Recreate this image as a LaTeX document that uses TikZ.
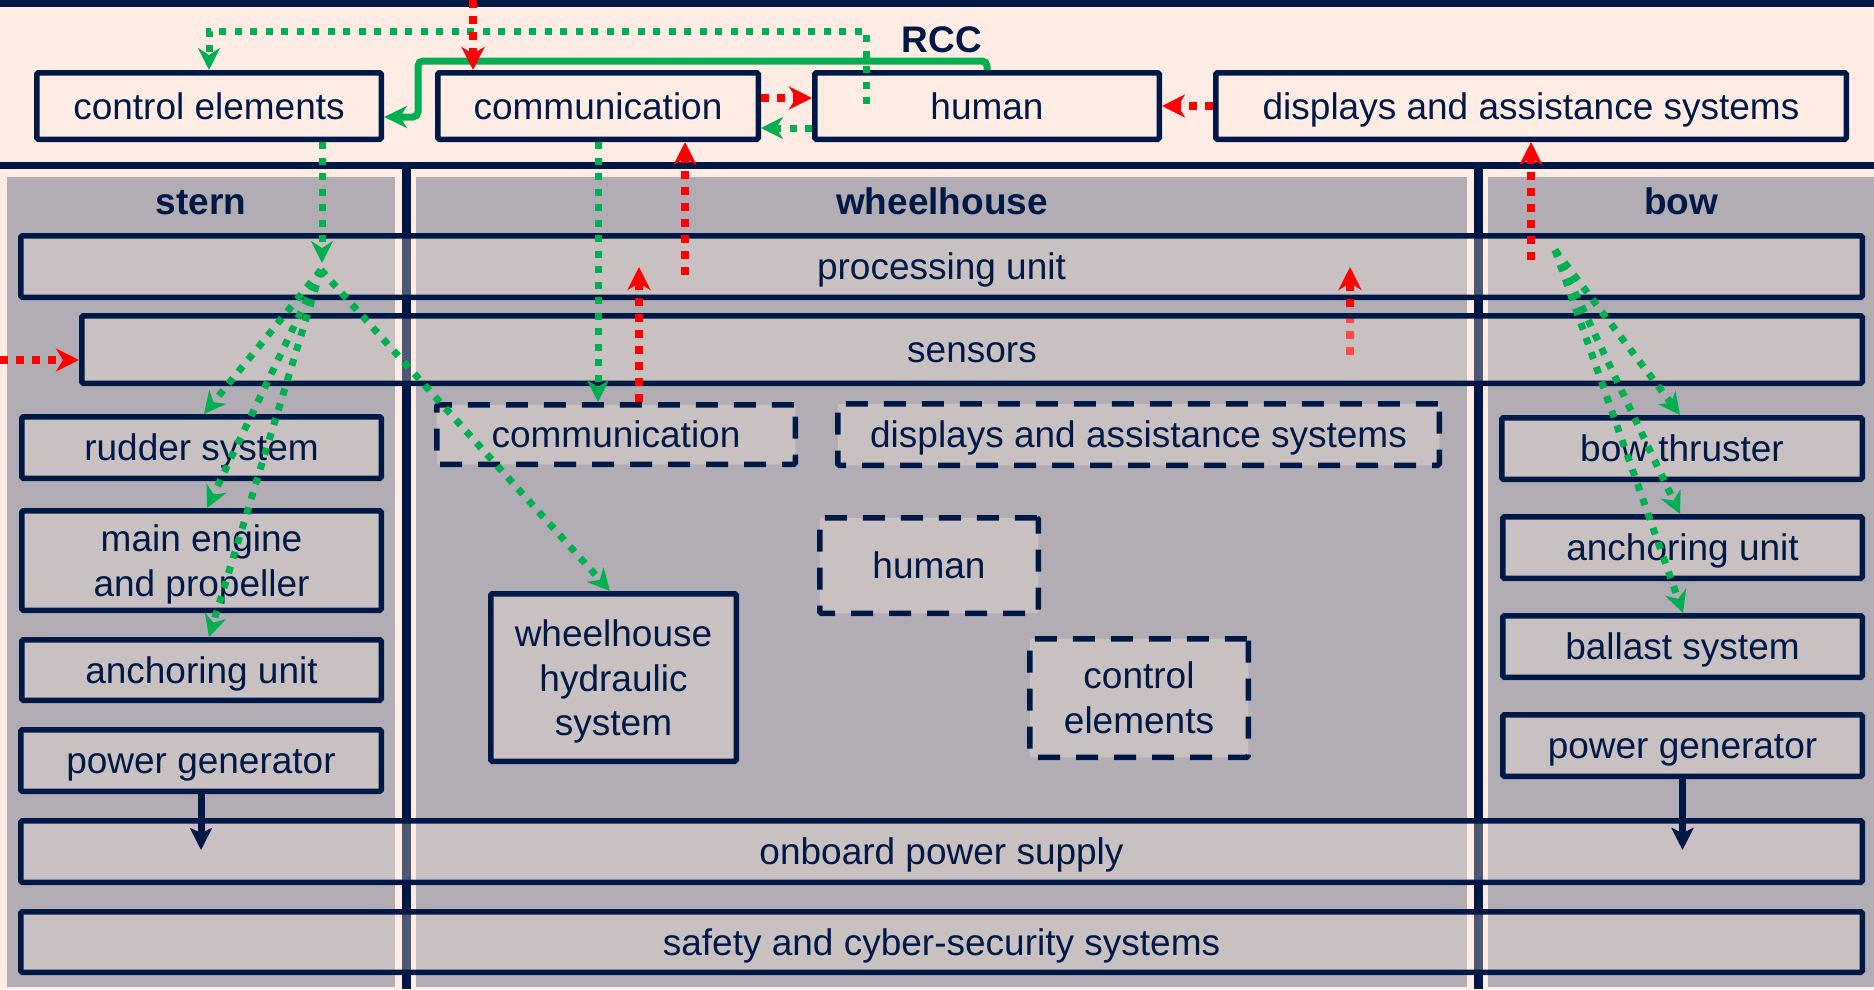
\documentclass[tikz,border=0pt]{standalone}
\usepackage{fontspec}
\setmainfont{Liberation Sans}
\usetikzlibrary{arrows.meta,calc}
\definecolor{navy}{RGB}{0,24,70}
\definecolor{peach}{RGB}{255,236,229}
\definecolor{panelgrey}{RGB}{178,173,180}
\definecolor{ggreen}{RGB}{0,176,80}
\definecolor{rred}{RGB}{255,0,0}
\newcommand\mybox[7]{%
  \node[#1,minimum width={#5-#3-5.5},minimum height={#6-#4-5.5}] (#2) at ({(#3+#5)/2},{(#4+#6)/2}) {#7};}
\tikzset{
  box/.style={draw=navy,line width=5.5pt,fill=peach,fill opacity=0.3,text opacity=1,
    draw opacity=1,rounded corners=1.5pt,inner sep=0pt,text=navy,
    font=\fontsize{37}{44.5}\selectfont},
  one/.style={text height=26.5pt,text depth=0pt},
  dbox/.style={box,dash pattern=on 22pt off 16pt},
  hdr/.style={anchor=base,text=navy,inner sep=0pt,font=\fontsize{37}{44.5}\selectfont\bfseries},
  gdot/.style={ggreen,line width=7pt,dash pattern=on 7pt off 8.5pt,
    -{Stealth[length=22pt,width=22pt,inset=7pt]}},
  rdot/.style={rred,line width=7.5pt,dash pattern=on 8pt off 8pt,
    -{Stealth[length=23pt,width=23pt,inset=7pt]}},
  gsol/.style={ggreen,line width=7pt,rounded corners=5pt,
    -{Stealth[length=23pt,width=22pt,inset=7pt]}},
  narr/.style={navy,line width=7pt,-{Stealth[length=22pt,width=22pt,inset=5pt]}}
}
\begin{document}
\begin{tikzpicture}[x=1pt,y=-1pt]
\useasboundingbox (0,0) rectangle (1874,989);
% background
\fill[peach] (0,0) rectangle (1874,989);
\fill[navy] (0,0) rectangle (1874,7);
\fill[navy] (0,161.5) rectangle (1874,169);
% panels
\fill[panelgrey] (7,177) rectangle (395,987);
\fill[panelgrey] (416,177) rectangle (1467,987);
\fill[panelgrey] (1488,177) rectangle (1874,987);
\fill[navy] (402,169) rectangle (411,989);
\fill[navy] (1474,169) rectangle (1483,989);
% headers
\node[hdr] (rcc) at (942,52) {RCC};
\node[hdr] (hstern) at (201,214) {stern};
\node[hdr] (hwheel) at (942,214) {wheelhouse};
\node[hdr] (hbow) at (1681,214) {bow};
% RCC boxes
\mybox{box,one}{ctrlR}{34}{70}{384}{142}{control elements}
\mybox{box,one}{commR}{435}{70}{761}{142}{communication}
\mybox{box,one}{humR}{812}{70}{1162}{142}{human}
\mybox{box,one}{dispR}{1213}{70}{1849}{142}{displays and assistance systems}
% bands
\mybox{box,one}{proc}{18}{233}{1865}{300}{processing unit}
\coordinate (sr1) at (1350,355);
\coordinate (sr2) at (1350,267);
\draw[rdot] (sr1) -- (sr2);
\mybox{box,one}{sens}{79}{313}{1865}{386}{sensors}
\mybox{box,one}{onb}{18}{818}{1865}{885}{onboard power supply}
\mybox{box,one}{safe}{18}{909}{1865}{975}{safety and cyber-security systems}
% stern
\mybox{box,one}{rudS}{19}{414}{384}{481}{rudder system}
\mybox{box,align=center}{mainS}{19}{508}{384}{613}{\rule{0pt}{35pt}main engine\\and propeller}
\mybox{box,one}{ancS}{19}{637}{384}{703}{anchoring unit}
\mybox{box,one}{pgS}{18}{727}{384}{794}{power generator}
% wheelhouse
\mybox{dbox,one}{commW}{434}{402}{798}{467}{communication}
\mybox{dbox,one}{dispW}{835}{401}{1442}{468}{displays and assistance systems}
\mybox{dbox,one}{humW}{817}{515}{1041}{616}{human}
\mybox{dbox,align=center}{ctrlW}{1027}{636}{1251}{760}{control\\elements}
\mybox{box,align=center}{hydW}{488}{591}{739}{764}{\rule{0pt}{35pt}wheelhouse\\hydraulic\\system}
% bow
\mybox{box,one}{btB}{1499}{415}{1865}{482}{bow thruster}
\mybox{box,one}{ancB}{1500}{514}{1865}{581}{anchoring unit}
\mybox{box,one}{balB}{1500}{613}{1865}{680}{ballast system}
\mybox{box,one}{pgB}{1500}{712}{1865}{779}{power generator}
% RCC connectors
\coordinate (hIn) at (866,104);
\coordinate (gTop) at (0,31);
\draw[gdot] (hIn) |- (gTop -| ctrlR.north) -- (ctrlR.north);
\coordinate (s1) at (418,61);
\coordinate (s2) at (418,117);
\draw[gsol] (humR.north) |- (s1) -- (s2) -- (ctrlR.east |- s2);
\coordinate (topR) at (473,0);
\draw[rdot] (topR) -- (topR |- commR.north);
\coordinate (yA) at (0,98);
\draw[rdot] (commR.east |- yA) -- (humR.west |- yA);
\coordinate (yB) at (0,128);
\draw[gdot] (humR.west |- yB) -- (commR.east |- yB);
\coordinate (yC) at (0,106);
\draw[rdot] (dispR.west |- yC) -- (humR.east |- yC);
% stern fan
\coordinate (xg) at (322,0);
\coordinate (fanTop) at (322,263);
\draw[gdot] (ctrlR.south -| xg) -- (fanTop);
\coordinate (fanS) at (321,270);
\coordinate (tRud) at (204,0);
\coordinate (tMain) at (207,0);
\coordinate (tAnc) at (209,0);
\coordinate (tHyd) at (610,0);
\draw[gdot] (fanS) -- (tRud |- rudS.north);
\draw[gdot] (fanS) -- (tMain |- mainS.north);
\draw[gdot] (fanS) -- (tAnc |- ancS.north);
\draw[gdot] (fanS) -- (tHyd |- hydW.north);
% communication links
\coordinate (xc) at (598,0);
\draw[gdot] (commR.south -| xc) -- (commW.north -| xc);
\coordinate (xr1) at (639,267);
\draw[rdot] (commW.north -| xr1) -- (xr1);
\coordinate (pr1) at (685,275);
\draw[rdot] (pr1) -- (commR.south -| pr1);
\coordinate (br1) at (1531,260);
\draw[rdot] (br1) -- (dispR.south -| br1);
\coordinate (lr1) at (0,360);
\draw[rdot] (lr1) -- (sens.west |- lr1);
% bow fan
\coordinate (fanB) at (1555,250);
\coordinate (tBt) at (1680,0);
\coordinate (tBb) at (1683,0);
\draw[gdot] (fanB) -- (tBt |- btB.north);
\draw[gdot] (fanB) -- (tBt |- ancB.north);
\draw[gdot] (fanB) -- (tBb |- balB.north);
% power
\coordinate (nS) at (0,850);
\draw[narr] (pgS.south) -- (pgS.south |- nS);
\draw[narr] (pgB.south) -- (pgB.south |- nS);
\end{tikzpicture}
\end{document}
